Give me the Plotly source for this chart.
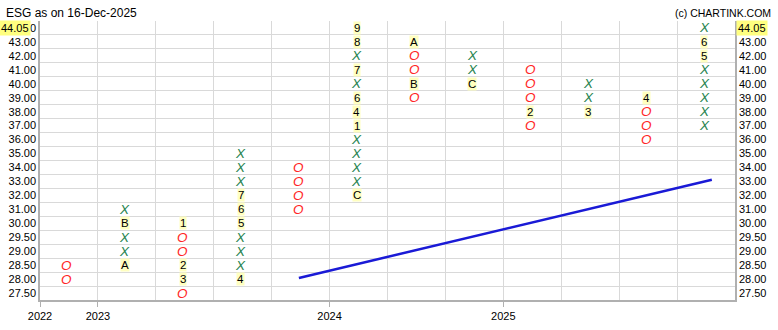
import plotly.graph_objects as go

# Price rows (box levels), bottom to top
price_levels = [27.5, 28.0, 28.5, 29.0, 29.5, 30.0, 31.0, 32.0, 33.0, 34.0,
                35.0, 36.0, 37.0, 38.0, 39.0, 40.0, 41.0, 42.0, 43.0, 44.0]
tick_text = ["%.2f" % p for p in price_levels]

# Point & figure columns: list of (price, symbol) per column
col0 = [(28.5, "O"), (28.0, "O")]
col1 = [(28.5, "A"), (29.0, "X"), (29.5, "X"), (30.0, "B"), (31.0, "X")]
col2 = [(30.0, "1"), (29.5, "O"), (29.0, "O"), (28.5, "2"), (28.0, "3"), (27.5, "O")]
col3 = [(28.0, "4"), (28.5, "X"), (29.0, "X"), (29.5, "X"), (30.0, "5"), (31.0, "6"),
        (32.0, "7"), (33.0, "X"), (34.0, "X"), (35.0, "X")]
col4 = [(34.0, "O"), (33.0, "O"), (32.0, "O"), (31.0, "O")]
col5 = [(32.0, "C"), (33.0, "X"), (34.0, "X"), (35.0, "X"), (36.0, "X"), (37.0, "1"),
        (38.0, "4"), (39.0, "6"), (40.0, "X"), (41.0, "7"), (42.0, "X"), (43.0, "8"), (44.0, "9")]
col6 = [(43.0, "A"), (42.0, "O"), (41.0, "O"), (40.0, "B"), (39.0, "O")]
col7 = [(42.0, "X"), (41.0, "X"), (40.0, "C")]
col8 = [(41.0, "O"), (40.0, "O"), (39.0, "O"), (38.0, "2"), (37.0, "O")]
col9 = [(40.0, "X"), (39.0, "X"), (38.0, "3")]
col10 = [(39.0, "4"), (38.0, "O"), (37.0, "O"), (36.0, "O")]
col11 = [(37.0, "X"), (38.0, "X"), (39.0, "X"), (40.0, "X"), (41.0, "X"), (42.0, "5"),
         (43.0, "6"), (44.0, "X")]
columns = [col0, col1, col2, col3, col4, col5, col6, col7, col8, col9, col10, col11]

# Year labels at column boundaries
year_pos = [-0.5, 0.5, 4.5, 7.5]
year_labels = ["2022", "2023", "2024", "2025"]

# Trend line (column index, row index)
trend_x = [3.97, 11.1]
trend_y = [1.08, 8.12]

last_price = 44.05
title = "ESG as on 16-Dec-2025"
credit = "(c) CHARTINK.COM"

row_of = {p: i for i, p in enumerate(price_levels)}
ncols = len(columns)
nrows = len(price_levels)

FONT = "Liberation Sans"
fig = go.Figure()

annotations = []
for ci, col in enumerate(columns):
    for price, sym in col:
        r = row_of[price]
        if sym == "X":
            annotations.append(dict(x=ci, y=r, xref="x", yref="y", text="<i>X</i>",
                                    showarrow=False, xshift=-2,
                                    font=dict(family=FONT, size=13.5, color="#278450")))
        elif sym == "O":
            annotations.append(dict(x=ci, y=r, xref="x", yref="y", text="<i>O</i>",
                                    showarrow=False, xshift=-2,
                                    font=dict(family=FONT, size=13.5, color="#ff2626")))
        else:
            annotations.append(dict(x=ci, y=r, xref="x", yref="y", text=sym,
                                    showarrow=False, xshift=-2, bgcolor="#ffffc0", borderpad=0,
                                    font=dict(family=FONT, size=11.5, color="#000000")))

fig.add_trace(go.Scatter(x=trend_x, y=trend_y, mode="lines",
                         line=dict(color="#1a1ad6", width=2.5), hoverinfo="skip",
                         showlegend=False))
# invisible trace for right axis
fig.add_trace(go.Scatter(x=[0], y=[0], yaxis="y2", mode="markers",
                         marker=dict(opacity=0), showlegend=False, hoverinfo="skip"))

top_row = nrows - 1
annotations.append(dict(xref="paper", yref="y", x=0, y=top_row, xanchor="right", xshift=-9,
                        text="%.2f" % last_price, showarrow=False, bgcolor="#ffff80", borderpad=1,
                        font=dict(family=FONT, size=11, color="#000")))
annotations.append(dict(xref="paper", yref="y", x=1, y=top_row, xanchor="left", xshift=1,
                        text="%.2f" % last_price, showarrow=False, bgcolor="#ffff80", borderpad=1,
                        font=dict(family=FONT, size=11, color="#000")))
annotations.append(dict(xref="paper", yref="paper", x=0, y=1, xanchor="left", yanchor="bottom",
                        xshift=-36, yshift=-1, text=title, showarrow=False,
                        font=dict(family=FONT, size=12, color="#000")))
annotations.append(dict(xref="paper", yref="paper", x=1, y=1, xanchor="right", yanchor="bottom",
                        xshift=38, yshift=0, text=credit, showarrow=False,
                        font=dict(family=FONT, size=10.5, color="#000")))

grid_col = "#d9d9d9"
axis_col = "#b0b0b0"

yaxis_common = dict(range=[-0.5, nrows - 0.5], tickmode="array",
                    tickvals=list(range(nrows)), ticktext=tick_text,
                    showgrid=False, zeroline=False, ticks="", automargin=False,
                    tickfont=dict(family=FONT, size=11, color="#000"),
                    showline=True, linecolor=axis_col, linewidth=1.5, fixedrange=True)

fig.update_layout(
    template="none",
    width=778, height=330,
    margin=dict(l=40, r=43, t=21, b=30, pad=0),
    paper_bgcolor="white", plot_bgcolor="white",
    showlegend=False,
    annotations=annotations,
    xaxis=dict(range=[-0.5, ncols - 0.5], tickmode="array", tickvals=year_pos,
               ticktext=year_labels, showgrid=True, gridcolor=grid_col, gridwidth=1,
               ticks="outside", ticklen=5, tickcolor=axis_col, tickwidth=1, zeroline=False,
               showline=True, linecolor=axis_col, linewidth=1.5, automargin=False,
               tickfont=dict(family=FONT, size=11, color="#000"),
               minor=dict(tickmode="linear", tick0=-0.5, dtick=1, showgrid=True,
                          gridcolor=grid_col, gridwidth=1, ticks="")),
    yaxis=dict(**yaxis_common, side="left",
               minor=dict(tickmode="linear", tick0=0.5, dtick=1, showgrid=True,
                          gridcolor=grid_col, gridwidth=1, ticks="")),
    yaxis2=dict(**yaxis_common, side="right", overlaying="y"),
)

fig.write_html("out.html")
